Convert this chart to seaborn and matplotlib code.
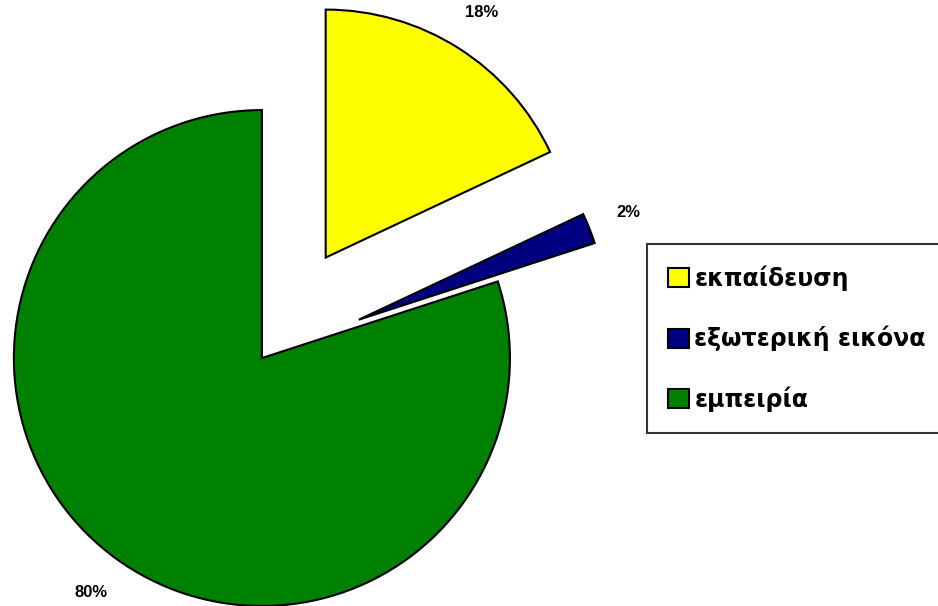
import matplotlib
matplotlib.use('Agg')
import matplotlib.pyplot as plt
import seaborn as sns

sns.set_theme(style='white')
plt.rcParams['font.family'] = ['Liberation Sans', 'DejaVu Sans']

# δεδομένα
labels = ['εκπαίδευση', 'εξωτερική εικόνα', 'εμπειρία']
values = [18, 2, 80]
colors = ['#FFFF00', '#000080', '#008000']
explode = [0.48, 0.42, 0.0]

fig = plt.figure(figsize=(9.38, 6.06), dpi=100)
ax = fig.add_axes([0, 0, 1, 1])

wedges, texts, autotexts = ax.pie(values, colors=colors, explode=explode,
                                  startangle=90, counterclock=False,
                                  autopct='%1.0f%%', pctdistance=1.17,
                                  wedgeprops={'edgecolor': 'black', 'linewidth': 1.5},
                                  textprops={'fontsize': 12, 'fontweight': 'bold', 'color': 'black'})

ax.set_aspect('auto')
ax.set_xlim(-1.056, 2.726)
ax.set_ylim(-1.0, 1.444)
ax.axis('off')

leg = fig.legend(wedges, labels, loc='upper left',
                 bbox_to_anchor=(0.690, 0.275, 0.34, 0.322), mode='expand',
                 prop={'family': 'DejaVu Sans', 'size': 17, 'weight': 'bold'},
                 frameon=True, fancybox=False,
                 handlelength=0.85, handleheight=0.85, handletextpad=0.25,
                 labelspacing=1.48, borderpad=0.9, borderaxespad=0)
leg.get_frame().set_edgecolor('black')
leg.get_frame().set_linewidth(1.5)
for t in leg.get_texts():
    t.set_color('black')

fig.savefig('out.png', dpi=100)
